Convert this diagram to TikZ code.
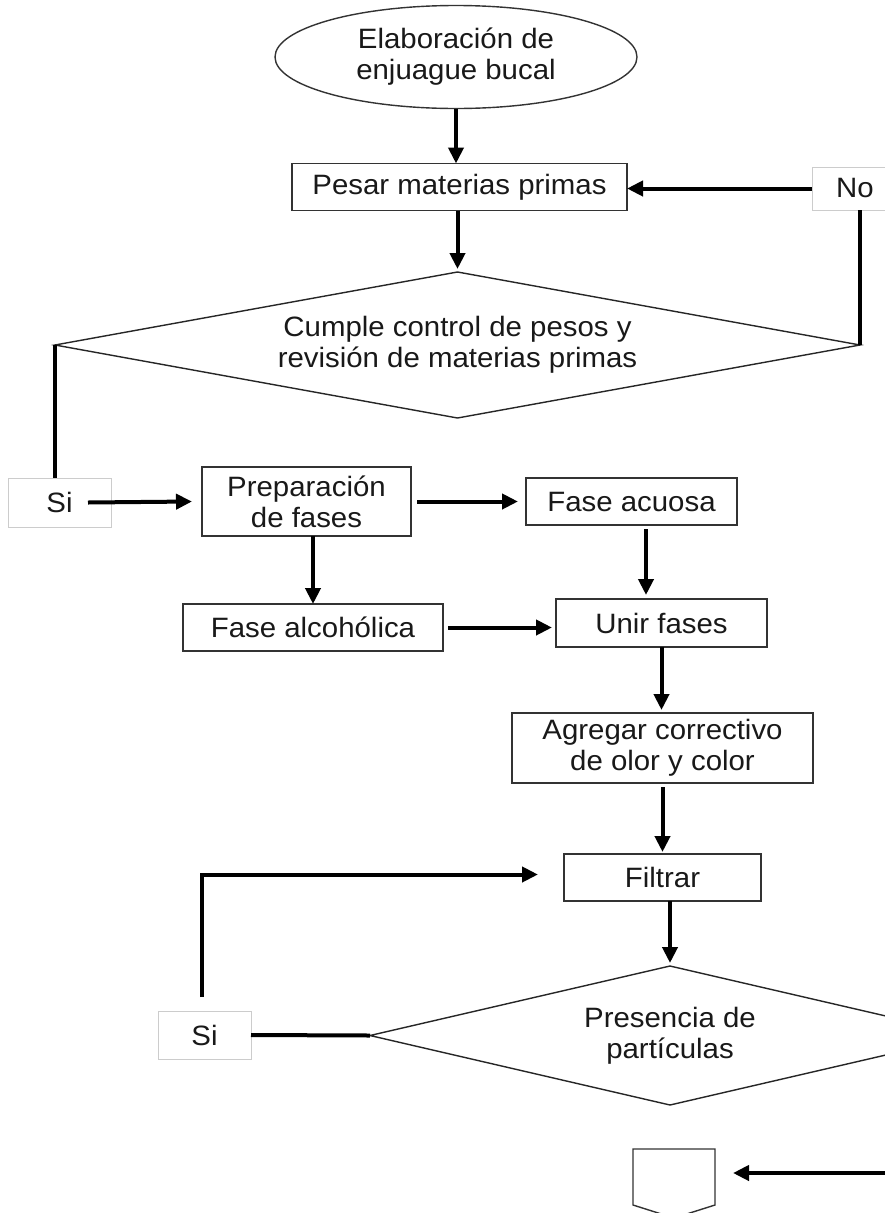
\documentclass[tikz,border=0pt]{standalone}
\usepackage{fontspec}
\setmainfont{Liberation Sans}[FakeStretch=1.05]
\usetikzlibrary{shapes.geometric,arrows.meta,calc}

\begin{document}
\begin{tikzpicture}[x=1pt,y=-1pt,
  every node/.style={font=\fontsize{28}{31}\selectfont, text=black!90,
    align=center, inner sep=0pt, outer sep=0pt},
  procbox/.style={draw=black!80, line width=1.6pt, rectangle},
  labelbox/.style={draw=black!20, line width=0.9pt, rectangle},
  decision/.style={draw=black!85, line width=1.4pt, diamond},
  terminal/.style={draw=black!80, line width=1.4pt, ellipse},
  flow/.style={line width=4pt, black, -{Triangle[length=16pt,width=15pt]}},
  link/.style={line width=4pt, black},
]
\useasboundingbox (0,0) rectangle (885,1213);
\fill[white] (0,0) rectangle (885,1213);
\clip (0,0) rectangle (885,1213);

% ---- nodes ----
\node[terminal, minimum width=362pt, minimum height=103pt] (start) at (456,57)
  {Elaboración de\\enjuague bucal};
\node[procbox, minimum width=335pt, minimum height=47pt] (pesar) at (459.5,187)
  {Pesar materias primas};
\node[decision, aspect=5.5, minimum width=805pt, minimum height=146pt] (check) at (457.5,345)
  {Cumple control de pesos y\\revisión de materias primas};
\node[labelbox, minimum width=86pt, minimum height=43pt] (no) at (855,188.5) {No};
\node[labelbox, minimum width=103pt, minimum height=49pt] (si1) at (59.5,502.5) {Si};
\node[procbox, minimum width=209pt, minimum height=69pt] (prep) at (306.5,501.5)
  {Preparación\\de fases};
\node[procbox, minimum width=211pt, minimum height=47pt] (acuosa) at (631.5,501.5)
  {Fase acuosa};
\node[procbox, minimum width=260pt, minimum height=47pt] (alc) at (313,627.5)
  {Fase alcohólica};
\node[procbox, minimum width=211pt, minimum height=48pt] (unir) at (661.5,623)
  {Unir fases};
\node[procbox, minimum width=301pt, minimum height=70pt] (agregar) at (662.5,748)
  {Agregar correctivo\\de olor y color};
\node[procbox, minimum width=197pt, minimum height=47pt] (filtrar) at (662.5,877.5)
  {Filtrar};
\node[decision, aspect=4.3, minimum width=600pt, minimum height=139pt] (check2) at (670,1035.5)
  {Presencia de\\partículas};
\node[labelbox, minimum width=93pt, minimum height=48pt] (si2) at (204.5,1035) {Si};

% off-page connector
\node[minimum width=82pt, minimum height=56pt] (offpage) at (674,1177) {};
\draw[draw=black!80, line width=1.4pt]
  (offpage.south west) -- (offpage.north west) -- (offpage.north east)
  -- (offpage.south east) -- ($(offpage.south)+(0,13)$) -- cycle;
\coordinate (rightedge) at (890,1173);

% ---- connectors ----
\draw[flow] (start.south) -- (start.south |- pesar.north);
\draw[flow] (pesar.south -| check.north) -- ($(check.north)+(0,-3)$);
\draw[flow] (no.west) -- (no.west -| pesar.east);
\draw[link] (check.east) -- (check.east |- no.south);
\draw[link] (check.west) -- (check.west |- si1.north);
\draw[flow] ($(si1.east)+(-23,0)$) -- ($(prep.west)+(-10,0)$);
\draw[flow] ($(prep.east)+(6,0)$) -- ($(acuosa.west)+(-8,0)$);
\draw[flow] (prep.south -| alc.north) -- (alc.north);
\draw[flow] ($(acuosa.south)+(14.5,4)$) -- ($(acuosa.south |- unir.north)+(14.5,-4)$);
\draw[flow] ($(alc.east)+(5,0)$) -- ($(alc.east -| unir.west)+(-4,0)$);
\draw[flow, shorten >=3pt] (unir.south) -- (unir.south |- agregar.north);
\draw[flow] ($(agregar.south)+(0,4)$) -- ($(agregar.south |- filtrar.north)+(0,-2)$);
\draw[flow] (filtrar.south -| check2.north) -- ($(check2.north)+(0,-3)$);
\draw[link] (check2.west) -- (si2.east);
\draw[flow] ($(si2.north)+(-2.5,-14)$) |- ($(filtrar.west)+(-26,-3)$);
\draw[flow] (rightedge) -- ($(offpage.east)+(18,-4)$);
\end{tikzpicture}
\end{document}
